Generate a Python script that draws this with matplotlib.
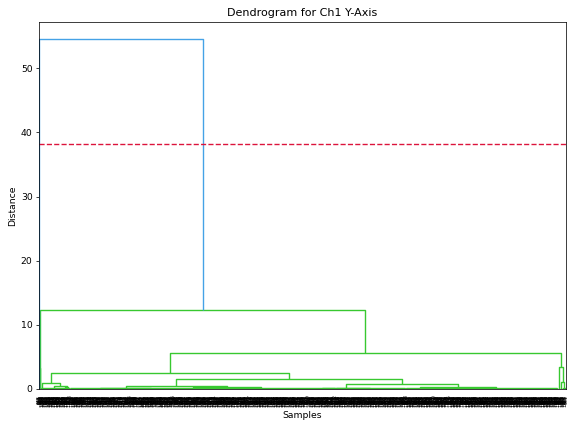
import matplotlib
matplotlib.use("Agg")
import matplotlib.pyplot as plt
from matplotlib.collections import LineCollection
from math import gcd

# leaf counts of the flat groups, left to right, and the distance they join at
group_sizes = [1, 1, 2, 8, 50, 5, 6, 4, 148, 105, 101, 233, 67, 173, 71, 304, 6, 6, 9]
group_heights = [0, 0, 0.05, 0.1, 0.15, 0.1, 0.08, 0.05, 0.12, 0.1, 0.15, 0.12,
                 0.1, 0.12, 0.15, 0.12, 0.05, 0.05, 0.08]

# merges, like a linkage table: new cluster ids start after the groups
merge_left = [1, 6, 5, 4, 3, 8, 10, 24, 12, 14, 27, 26, 23, 17, 16, 31, 19, 0]
merge_right = [2, 7, 20, 21, 22, 9, 11, 25, 13, 15, 28, 29, 30, 18, 32, 33, 34, 35]
merge_height = [3.2, 0.15, 0.3, 0.5, 0.9, 0.1, 0.3, 0.45, 0.2, 0.35, 0.8, 1.5,
                2.5, 1.1, 3.5, 5.6, 12.3, 54.5]

title = "Dendrogram for Ch1 Y-Axis"
low_color = "#38c830"
high_color = "#45a2e6"
cut_color = "crimson"

threshold = 0.7 * max(merge_height)
n_leaves = sum(group_sizes)

# sample ids: each group gets ids from the whole range, shuffled in a fixed way
slots = [(g, j) for g, n in enumerate(group_sizes) for j in range(n)]
slots.sort(key=lambda s: ((s[1] + 0.5) / group_sizes[s[0]], s[0]))
ranked = [[] for _ in group_sizes]
for sid, (g, j) in enumerate(slots):
    ranked[g].append(sid)
members = []
for g, n in enumerate(group_sizes):
    step = max(1, round(n * 0.618))
    while gcd(step, n) != 1:
        step += 1
    members.append([ranked[g][(i * step) % n] for i in range(n)])

pos, hgt = {}, {}
segs, cols = [], []
leaf_x, leaf_labels = [], []
leaf = 0
for g, n in enumerate(group_sizes):
    xs = [10 * (leaf + i) + 5 for i in range(n)]
    h = group_heights[g]
    leaf_x += xs
    leaf_labels += [str(s) for s in members[g]]
    pos[g] = sum(xs) / n
    hgt[g] = h
    if n > 1:
        segs.append([(xs[0], h), (xs[-1], h)])
        cols.append(low_color)
        for x in xs:
            segs.append([(x, 0), (x, h)])
            cols.append(low_color)
    leaf += n

for k, (a, b, h) in enumerate(zip(merge_left, merge_right, merge_height)):
    nid = len(group_sizes) + k
    segs.append([(pos[a], hgt[a]), (pos[a], h), (pos[b], h), (pos[b], hgt[b])])
    cols.append(high_color if h > threshold else low_color)
    pos[nid] = (pos[a] + pos[b]) / 2
    hgt[nid] = h

W, H, dpi = 575, 428, 66.5
fig = plt.figure(figsize=(W / dpi, H / dpi), dpi=dpi)
ax = fig.add_axes([39 / W, 39 / H, 527 / W, 367 / H])

ax.add_collection(LineCollection(segs, colors=cols, linewidths=1.5))
ax.axhline(threshold, color=cut_color, linestyle="--", linewidth=1.5)

ax.set_xlim(0, 10 * n_leaves)
ax.set_ylim(0, 1.05 * max(merge_height))
ax.set_xticks(leaf_x)
ax.set_xticklabels(leaf_labels, rotation=90, fontsize=5)
for line in ax.get_xticklines():
    line.set_visible(False)

ax.set_title(title)
ax.set_xlabel("Samples")
ax.set_ylabel("Distance")

fig.savefig("out.png", dpi=dpi)
